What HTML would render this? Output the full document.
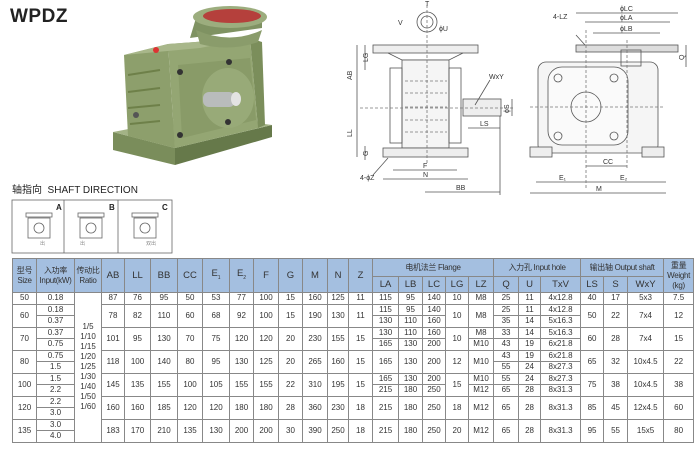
<!DOCTYPE html>
<html><head><meta charset="utf-8">
<style>
html,body{margin:0;padding:0;background:#fff;width:700px;height:450px;overflow:hidden;position:relative;font-family:"Liberation Sans","Noto Sans CJK SC",sans-serif;color:#333}
#title{position:absolute;left:10px;top:6px;font-size:19px;font-weight:bold;color:#222;letter-spacing:0.5px}
#sd{position:absolute;left:12px;top:181px;font-size:10px;color:#222}
table{position:absolute;left:12px;top:258px;border-collapse:collapse;table-layout:fixed;width:681px}
td{border:1px solid #888;text-align:center;font-size:8px;padding:0;height:10.5px;line-height:10px;overflow:hidden;white-space:nowrap}
td.h{background:#a4bfe0;font-size:8px;color:#333;line-height:10px;letter-spacing:-0.3px}
td.h2{background:#a4bfe0;font-size:9.5px}
</style></head><body>
<div id="title">WPDZ</div>

<svg width="700" height="258" style="position:absolute;left:0;top:0" xmlns="http://www.w3.org/2000/svg">
<!-- photo gearbox -->
<g>
<polygon points="113,132 175,148 175,165 113,150" fill="#7a8d5b"/>
<polygon points="175,148 272,125 272,137 175,165" fill="#66794a"/>
<polygon points="113,132 200,115 272,125 175,148" fill="#a3b386"/>
<polygon points="124,55 168,44 175,148 128,136" fill="#8d9f6c"/>
<polygon points="168,44 250,38 258,128 175,148" fill="#94a673"/>
<polygon points="250,38 262,42 265,125 258,128" fill="#7b8e5b"/>
<polygon points="124,55 168,44 250,38 200,48" fill="#a8b78a"/>
<g stroke="#6e8049" stroke-width="2"><line x1="128" y1="75" x2="160" y2="70"/><line x1="128" y1="92" x2="160" y2="88"/><line x1="128" y1="108" x2="160" y2="105"/><line x1="130" y1="124" x2="160" y2="121"/></g>
<polygon points="178,65 250,58 256,120 182,138" fill="#899b68"/>
<ellipse cx="228" cy="98" rx="26" ry="30" fill="#98aa78"/>
<polygon points="190,38 262,28 262,12 196,18" fill="#7f9262"/>
<ellipse cx="230" cy="17" rx="37" ry="11" fill="#9cad7e"/>
<ellipse cx="232" cy="16" rx="29" ry="7" fill="#b5403c"/>
<path d="M196 30 Q230 45 262 30 L258 42 Q230 52 200 44 Z" fill="#8a9c6b"/>
<rect x="203" y="92" width="32" height="15" fill="#b9bcbc" rx="6"/>
<ellipse cx="236" cy="99" rx="5" ry="7" fill="#e3e3e3"/>
<circle cx="156" cy="50" r="3" fill="#d33"/>
<circle cx="180" cy="72" r="3" fill="#333"/><circle cx="229" cy="62" r="3" fill="#333"/>
<circle cx="180" cy="135" r="3" fill="#333"/><circle cx="228" cy="122" r="3" fill="#333"/>
<circle cx="136" cy="115" r="3" fill="#555"/>
</g>
<!-- left drawing -->
<g stroke="#555" stroke-width="0.8" fill="none">
<circle cx="427" cy="22" r="10"/><circle cx="427" cy="22" r="6"/>
<rect x="373" y="45" width="105" height="8" fill="#eee"/>
<path d="M388 53 L402 60 L449 60 L463 53"/>
<rect x="402" y="60" width="47" height="88" fill="#f5f5f5"/>
<rect x="390" y="68" width="12" height="75"/><rect x="449" y="68" width="12" height="75"/>
<rect x="383" y="148" width="85" height="9" fill="#eee"/>
<rect x="463" y="99" width="38" height="17" fill="#eee"/>
<g stroke="#777" stroke-dasharray="3,2">
<line x1="405" y1="81" x2="447" y2="81"/><line x1="405" y1="93" x2="447" y2="93"/><line x1="405" y1="107" x2="447" y2="107"/><line x1="405" y1="120" x2="447" y2="120"/><line x1="405" y1="132" x2="447" y2="132"/>
<line x1="427" y1="5" x2="427" y2="165"/><line x1="360" y1="108" x2="515" y2="108"/>
</g>
<line x1="357" y1="45" x2="357" y2="157"/><line x1="365" y1="45" x2="365" y2="70"/><line x1="365" y1="146" x2="365" y2="160"/>
<line x1="393" y1="170" x2="457" y2="170"/><line x1="383" y1="179" x2="468" y2="179"/><line x1="425" y1="192" x2="500" y2="192"/>
<line x1="468" y1="128" x2="500" y2="128"/><line x1="500" y1="116" x2="500" y2="195"/>
<line x1="512" y1="99" x2="512" y2="116"/><line x1="490" y1="80" x2="475" y2="105"/>
<line x1="373" y1="175" x2="388" y2="158"/>
</g>
<g font-size="7" fill="#333" font-family="Liberation Sans">
<text x="398" y="25">V</text><text x="439" y="31">ϕU</text><text x="425" y="6">T</text>
<text x="352" y="80" transform="rotate(-90 352 80)">AB</text><text x="352" y="137" transform="rotate(-90 352 137)">LL</text>
<text x="368" y="62" transform="rotate(-90 368 62)">LG</text><text x="368" y="156" transform="rotate(-90 368 156)">G</text>
<text x="423" y="168">F</text><text x="423" y="177">N</text><text x="456" y="190">BB</text><text x="480" y="126">LS</text>
<text x="489" y="79">WxY</text><text x="509" y="113" transform="rotate(-90 509 113)">ϕS</text><text x="360" y="180">4-ϕZ</text>
</g>
<!-- right drawing -->
<g stroke="#555" stroke-width="0.8" fill="none">
<rect x="576" y="45" width="102" height="7" fill="#ddd"/>
<rect x="538" y="62" width="120" height="91" rx="8" fill="#f5f5f5"/>
<rect x="548" y="67" width="80" height="78" rx="14" fill="#fafafa"/>
<circle cx="586" cy="107" r="15"/><circle cx="558" cy="78" r="4"/><circle cx="614" cy="78" r="4"/><circle cx="558" cy="136" r="4"/><circle cx="614" cy="136" r="4"/>
<rect x="530" y="147" width="22" height="10" fill="#eee"/><rect x="642" y="147" width="22" height="10" fill="#eee"/>
<rect x="621" y="50" width="20" height="16"/>
<line x1="576" y1="13" x2="678" y2="13"/><line x1="585" y1="22" x2="670" y2="22"/><line x1="593" y1="33" x2="660" y2="33"/>
<line x1="686" y1="45" x2="686" y2="67"/>
<line x1="586" y1="166" x2="627" y2="166"/><line x1="536" y1="182" x2="666" y2="182"/><line x1="530" y1="193" x2="666" y2="193"/>
<line x1="576" y1="35" x2="585" y2="45"/>
<g stroke="#777" stroke-dasharray="3,2"><line x1="586" y1="30" x2="586" y2="190"/><line x1="530" y1="107" x2="665" y2="107"/><line x1="627" y1="40" x2="627" y2="168"/></g>
</g>
<g font-size="7" fill="#333" font-family="Liberation Sans">
<text x="620" y="11">ϕLC</text><text x="620" y="20">ϕLA</text><text x="620" y="31">ϕLB</text><text x="553" y="19">4-LZ</text>
<text x="684" y="60" transform="rotate(-90 684 60)">Q</text>
<text x="603" y="164">CC</text><text x="559" y="180">E₁</text><text x="620" y="180">E₂</text><text x="596" y="191">M</text>
</g>
<!-- shaft direction boxes -->
<g stroke="#666" stroke-width="0.8" fill="none">
<rect x="12" y="200" width="160" height="53"/><line x1="64" y1="200" x2="64" y2="253"/><line x1="118" y1="200" x2="118" y2="253"/>
<rect x="28" y="218" width="22" height="20"/><circle cx="39" cy="228" r="5"/><rect x="26" y="213" width="26" height="4"/>
<rect x="80" y="218" width="22" height="20"/><circle cx="91" cy="228" r="5"/><rect x="78" y="213" width="26" height="4"/>
<rect x="134" y="218" width="22" height="20"/><circle cx="145" cy="228" r="5"/><rect x="132" y="213" width="26" height="4"/>
</g>
<g font-size="8" fill="#222" font-weight="bold"><text x="56" y="210">A</text><text x="109" y="210">B</text><text x="162" y="210">C</text></g>
<g font-size="5" fill="#888" font-family="Noto Sans CJK SC"><text x="40" y="245">出</text><text x="80" y="245">出</text><text x="146" y="245">双出</text></g>
</svg>
<div id="sd">轴指向&nbsp; SHAFT DIRECTION</div>

<table>
<colgroup>
<col style="width:24px"><col style="width:38px"><col style="width:27px"><col style="width:23px"><col style="width:26px"><col style="width:27px"><col style="width:25px"><col style="width:27px"><col style="width:24px"><col style="width:25px"><col style="width:24px"><col style="width:25px"><col style="width:21px"><col style="width:24px"><col style="width:26px"><col style="width:24px"><col style="width:23px"><col style="width:23px"><col style="width:25px"><col style="width:25px"><col style="width:22px"><col style="width:40px"><col style="width:23px"><col style="width:24px"><col style="width:36px"><col style="width:30px">
</colgroup>
<tr style="height:18px"><td class="h" rowspan="2">型号<br>Size</td><td class="h" rowspan="2">入功率<br>Input(kW)</td><td class="h" rowspan="2">传动比<br>Ratio</td>
<td class="h2" rowspan="2">AB</td><td class="h2" rowspan="2">LL</td><td class="h2" rowspan="2">BB</td><td class="h2" rowspan="2">CC</td><td class="h2" rowspan="2">E<sub style="font-size:5px">1</sub></td><td class="h2" rowspan="2">E<sub style="font-size:5px">2</sub></td><td class="h2" rowspan="2">F</td><td class="h2" rowspan="2">G</td><td class="h2" rowspan="2">M</td><td class="h2" rowspan="2">N</td><td class="h2" rowspan="2">Z</td>
<td class="h" colspan="5">电机法兰 Flange</td><td class="h" colspan="3">入力孔 Input hole</td><td class="h" colspan="3">输出轴 Output shaft</td><td class="h" rowspan="2">重量<br>Weight<br>(kg)</td></tr>
<tr style="height:16px"><td class="h2">LA</td><td class="h2">LB</td><td class="h2">LC</td><td class="h2">LG</td><td class="h2">LZ</td><td class="h2">Q</td><td class="h2">U</td><td class="h2">TxV</td><td class="h2">LS</td><td class="h2">S</td><td class="h2">WxY</td></tr>
<tr><td>50</td><td>0.18</td><td rowspan="13">1/5<br>1/10<br>1/15<br>1/20<br>1/25<br>1/30<br>1/40<br>1/50<br>1/60</td><td>87</td><td>76</td><td>95</td><td>50</td><td>53</td><td>77</td><td>100</td><td>15</td><td>160</td><td>125</td><td>11</td><td>115</td><td>95</td><td>140</td><td>10</td><td>M8</td><td>25</td><td>11</td><td>4x12.8</td><td>40</td><td>17</td><td>5x3</td><td>7.5</td></tr>
<tr><td rowspan="2">60</td><td>0.18</td><td rowspan="2">78</td><td rowspan="2">82</td><td rowspan="2">110</td><td rowspan="2">60</td><td rowspan="2">68</td><td rowspan="2">92</td><td rowspan="2">100</td><td rowspan="2">15</td><td rowspan="2">190</td><td rowspan="2">130</td><td rowspan="2">11</td><td>115</td><td>95</td><td>140</td><td rowspan="2">10</td><td rowspan="2">M8</td><td>25</td><td>11</td><td>4x12.8</td><td rowspan="2">50</td><td rowspan="2">22</td><td rowspan="2">7x4</td><td rowspan="2">12</td></tr>
<tr><td>0.37</td><td>130</td><td>110</td><td>160</td><td>35</td><td>14</td><td>5x16.3</td></tr>
<tr><td rowspan="2">70</td><td>0.37</td><td rowspan="2">101</td><td rowspan="2">95</td><td rowspan="2">130</td><td rowspan="2">70</td><td rowspan="2">75</td><td rowspan="2">120</td><td rowspan="2">120</td><td rowspan="2">20</td><td rowspan="2">230</td><td rowspan="2">155</td><td rowspan="2">15</td><td>130</td><td>110</td><td>160</td><td rowspan="2">10</td><td>M8</td><td>33</td><td>14</td><td>5x16.3</td><td rowspan="2">60</td><td rowspan="2">28</td><td rowspan="2">7x4</td><td rowspan="2">15</td></tr>
<tr><td>0.75</td><td>165</td><td>130</td><td>200</td><td>M10</td><td>43</td><td>19</td><td>6x21.8</td></tr>
<tr><td rowspan="2">80</td><td>0.75</td><td rowspan="2">118</td><td rowspan="2">100</td><td rowspan="2">140</td><td rowspan="2">80</td><td rowspan="2">95</td><td rowspan="2">130</td><td rowspan="2">125</td><td rowspan="2">20</td><td rowspan="2">265</td><td rowspan="2">160</td><td rowspan="2">15</td><td rowspan="2">165</td><td rowspan="2">130</td><td rowspan="2">200</td><td rowspan="2">12</td><td rowspan="2">M10</td><td>43</td><td>19</td><td>6x21.8</td><td rowspan="2">65</td><td rowspan="2">32</td><td rowspan="2">10x4.5</td><td rowspan="2">22</td></tr>
<tr><td>1.5</td><td>55</td><td>24</td><td>8x27.3</td></tr>
<tr><td rowspan="2">100</td><td>1.5</td><td rowspan="2">145</td><td rowspan="2">135</td><td rowspan="2">155</td><td rowspan="2">100</td><td rowspan="2">105</td><td rowspan="2">155</td><td rowspan="2">155</td><td rowspan="2">22</td><td rowspan="2">310</td><td rowspan="2">195</td><td rowspan="2">15</td><td>165</td><td>130</td><td>200</td><td rowspan="2">15</td><td>M10</td><td>55</td><td>24</td><td>8x27.3</td><td rowspan="2">75</td><td rowspan="2">38</td><td rowspan="2">10x4.5</td><td rowspan="2">38</td></tr>
<tr><td>2.2</td><td>215</td><td>180</td><td>250</td><td>M12</td><td>65</td><td>28</td><td>8x31.3</td></tr>
<tr><td rowspan="2">120</td><td>2.2</td><td rowspan="2">160</td><td rowspan="2">160</td><td rowspan="2">185</td><td rowspan="2">120</td><td rowspan="2">120</td><td rowspan="2">180</td><td rowspan="2">180</td><td rowspan="2">28</td><td rowspan="2">360</td><td rowspan="2">230</td><td rowspan="2">18</td><td rowspan="2">215</td><td rowspan="2">180</td><td rowspan="2">250</td><td rowspan="2">18</td><td rowspan="2">M12</td><td rowspan="2">65</td><td rowspan="2">28</td><td rowspan="2">8x31.3</td><td rowspan="2">85</td><td rowspan="2">45</td><td rowspan="2">12x4.5</td><td rowspan="2">60</td></tr>
<tr><td>3.0</td></tr>
<tr><td rowspan="2">135</td><td>3.0</td><td rowspan="2">183</td><td rowspan="2">170</td><td rowspan="2">210</td><td rowspan="2">135</td><td rowspan="2">130</td><td rowspan="2">200</td><td rowspan="2">200</td><td rowspan="2">30</td><td rowspan="2">390</td><td rowspan="2">250</td><td rowspan="2">18</td><td rowspan="2">215</td><td rowspan="2">180</td><td rowspan="2">250</td><td rowspan="2">20</td><td rowspan="2">M12</td><td rowspan="2">65</td><td rowspan="2">28</td><td rowspan="2">8x31.3</td><td rowspan="2">95</td><td rowspan="2">55</td><td rowspan="2">15x5</td><td rowspan="2">80</td></tr>
<tr><td>4.0</td></tr>
</table>
</body></html>
